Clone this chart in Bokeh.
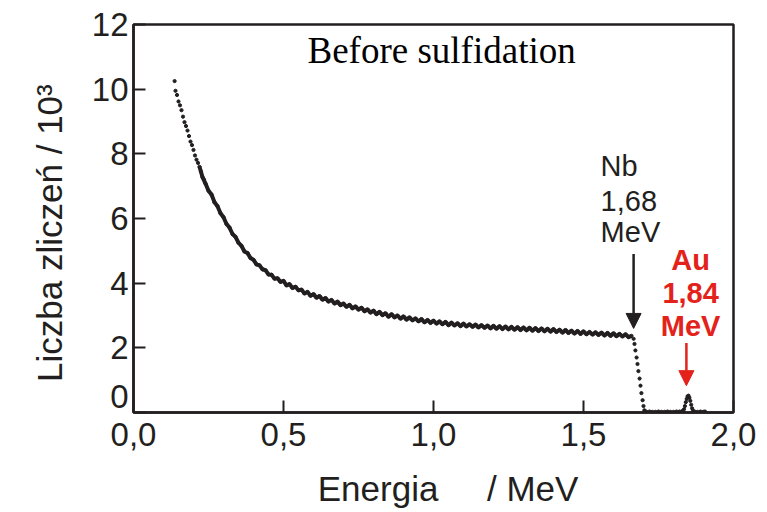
import numpy as np
from bokeh.plotting import figure
from bokeh.models import (Range1d, FixedTicker, CustomJSTickFormatter, Label,
                          Arrow, NormalHead, ColumnDataSource)
from bokeh.embed import file_html
from bokeh.resources import INLINE

# ---------------- data ----------------
# steep low-energy part (sparse dots)
E_top = [0.137, 0.145, 0.155, 0.165, 0.175, 0.185, 0.195, 0.205, 0.215, 0.225, 0.235]
C_top = [10.25, 9.82, 9.50, 9.15, 8.86, 8.55, 8.27, 7.95, 7.72, 7.45, 7.20]

# main continuum, 0.14 ... 1.66 MeV in 0.01 MeV channels (counts / 10^3)
C_band = [
    9.95, 9.62, 9.35, 8.98, 8.72, 8.38, 8.12, 7.82, 7.60, 7.28,
    7.08, 6.86, 6.74, 6.50, 6.38, 6.16, 6.04, 5.83, 5.72, 5.52,
    5.43, 5.25, 5.15, 4.98, 4.93, 4.78, 4.72, 4.58, 4.55, 4.43,
    4.40, 4.27, 4.26, 4.14, 4.15, 4.04, 4.07, 3.93, 3.97, 3.85,
    3.89, 3.78, 3.80, 3.68, 3.73, 3.61, 3.66, 3.55, 3.60, 3.49,
    3.54, 3.43, 3.48, 3.37, 3.43, 3.32, 3.37, 3.27, 3.33, 3.22,
    3.28, 3.18, 3.24, 3.13, 3.19, 3.09, 3.15, 3.04, 3.11, 3.01,
    3.07, 2.96, 3.04, 2.94, 3.00, 2.90, 2.97, 2.87, 2.94, 2.85,
    2.91, 2.82, 2.89, 2.79, 2.86, 2.77, 2.84, 2.75, 2.82, 2.73,
    2.80, 2.70, 2.78, 2.69, 2.76, 2.67, 2.75, 2.66, 2.73, 2.65,
    2.72, 2.63, 2.70, 2.62, 2.69, 2.60, 2.68, 2.59, 2.67, 2.58,
    2.66, 2.57, 2.65, 2.56, 2.64, 2.55, 2.63, 2.54, 2.62, 2.53,
    2.61, 2.52, 2.60, 2.51, 2.59, 2.50, 2.58, 2.49, 2.56, 2.47,
    2.55, 2.46, 2.53, 2.44, 2.52, 2.43, 2.51, 2.42, 2.49, 2.41,
    2.48, 2.40, 2.47, 2.38, 2.46, 2.37, 2.45, 2.36, 2.43, 2.35,
    2.42, 2.33, 2.37,
]
E_band = np.round(0.14 + 0.01 * np.arange(len(C_band)), 2)

# Nb edge (drop)
E_drop = [1.667, 1.670, 1.673, 1.677, 1.680, 1.683, 1.687, 1.690, 1.693, 1.697, 1.700, 1.703]
C_drop = [2.28, 2.12, 1.92, 1.70, 1.50, 1.28, 1.05, 0.83, 0.60, 0.38, 0.20, 0.07]

# baseline and Au peak
E_tail = [1.706, 1.71, 1.72, 1.73, 1.74, 1.75, 1.76, 1.77, 1.78, 1.79, 1.80, 1.81, 1.82, 1.83,
          1.835, 1.838, 1.841, 1.844, 1.847, 1.850, 1.853, 1.856, 1.859, 1.862, 1.865,
          1.87, 1.88, 1.89, 1.90, 1.905]
C_tail = [0.03, 0.02, 0.03, 0.02, 0.02, 0.03, 0.02, 0.02, 0.03, 0.02, 0.02, 0.03, 0.03, 0.05,
          0.10, 0.20, 0.32, 0.42, 0.50, 0.52, 0.46, 0.36, 0.24, 0.13, 0.06,
          0.03, 0.02, 0.03, 0.02, 0.03]

x_ticks = [0.0, 0.5, 1.0, 1.5, 2.0]
y_ticks = [0, 2, 4, 6, 8, 10, 12]

INK = "#231f20"
RED = "#e3231b"
NB = "\u00a0"

# ---------------- figure ----------------
p = figure(width=760, height=510, output_backend="svg", toolbar_location=None,
           x_range=Range1d(0, 2), y_range=Range1d(0, 12),
           min_border_left=133, min_border_right=27, min_border_top=24, min_border_bottom=98)
p.grid.visible = False
p.background_fill_color = "white"
p.border_fill_color = "white"
p.outline_line_color = INK
p.outline_line_width = 2.5
p.outline_line_alpha = 1.0

for ax in (p.xaxis[0], p.yaxis[0]):
    ax.axis_line_color = INK
    ax.axis_line_width = 2.5
    ax.major_tick_line_color = INK
    ax.major_tick_line_width = 2
    ax.major_tick_in = 12
    ax.major_tick_out = 0
    ax.minor_tick_line_color = None
    ax.major_label_text_font = "Liberation Sans"
    ax.major_label_text_font_size = "33px"
    ax.major_label_text_color = INK
    ax.axis_label_text_font = "Liberation Sans"
    ax.axis_label_text_font_style = "normal"
    ax.axis_label_text_color = INK

p.xaxis.ticker = FixedTicker(ticks=x_ticks)
p.xaxis.formatter = CustomJSTickFormatter(code="return tick.toFixed(1).replace('.', ',');")
p.xaxis.major_label_standoff = 10
p.xaxis.axis_label = NB * 3 + "Energia" + NB * 5 + "/ MeV"
p.xaxis.axis_label_text_font_size = "35px"
p.xaxis.axis_label_standoff = 20

p.yaxis.ticker = FixedTicker(ticks=y_ticks)
# the "0" label sits raised above the corner in the original: a two-line label
# centred on the tick lifts its first line upward
p.yaxis.formatter = CustomJSTickFormatter(
    code="return tick == 0 ? '0\\n' : tick.toFixed(0);")
p.yaxis.major_label_text_line_height = 0.85
p.yaxis.major_label_standoff = 5
p.yaxis.axis_label = "Liczba zliczeń / 10³" + NB * 3
p.yaxis.axis_label_text_font_size = "35px"
p.yaxis.axis_label_standoff = 20

# ---------------- data marks ----------------
mask = E_band >= 0.22
band = ColumnDataSource(dict(x=E_band[mask], y=np.array(C_band)[mask]))
p.line("x", "y", source=band, line_color=INK, line_width=4)
p.scatter(list(E_top) + list(E_band), list(C_top) + list(C_band), size=3.2, color=INK)
p.scatter(E_drop, C_drop, size=3.2, color=INK)
base1 = [i for i, e in enumerate(E_tail) if e <= 1.83]
base2 = [i for i, e in enumerate(E_tail) if e >= 1.87]
p.line([E_tail[i] for i in base1], [C_tail[i] for i in base1], line_color=INK, line_width=2)
p.line([E_tail[i] for i in base2], [C_tail[i] for i in base2], line_color=INK, line_width=2)
p.scatter(E_tail, C_tail, size=3.2, color=INK)

# ---------------- annotations ----------------
p.add_layout(Label(x=1.027, y=11.2, text="Before sulfidation", text_align="center",
                   text_baseline="alphabetic", text_font="Liberation Serif",
                   text_font_size="37px", text_color="black"))

nb_lines = ["Nb", "1,68", "MeV"]
nb_y = [7.62, 6.54, 5.59]
for t, yy in zip(nb_lines, nb_y):
    p.add_layout(Label(x=1.557, y=yy, text=t, text_align="left", text_baseline="alphabetic",
                       text_font="Liberation Sans", text_font_size="29px", text_color=INK))

au_lines = ["Au", "1,84", "MeV"]
au_y = [4.72, 3.70, 2.69]
for t, yy in zip(au_lines, au_y):
    p.add_layout(Label(x=1.857, y=yy, text=t, text_align="center", text_baseline="alphabetic",
                       text_font="Liberation Sans", text_font_size="29px",
                       text_font_style="bold", text_color=RED))

p.add_layout(Arrow(end=NormalHead(size=15, fill_color=INK, line_color=INK),
                   x_start=1.667, y_start=4.9, x_end=1.667, y_end=2.6,
                   line_color=INK, line_width=2.5))
p.add_layout(Arrow(end=NormalHead(size=15, fill_color=RED, line_color=RED),
                   x_start=1.843, y_start=2.15, x_end=1.843, y_end=0.83,
                   line_color=RED, line_width=2.5))

open("out.html", "w").write(file_html(p, INLINE))
